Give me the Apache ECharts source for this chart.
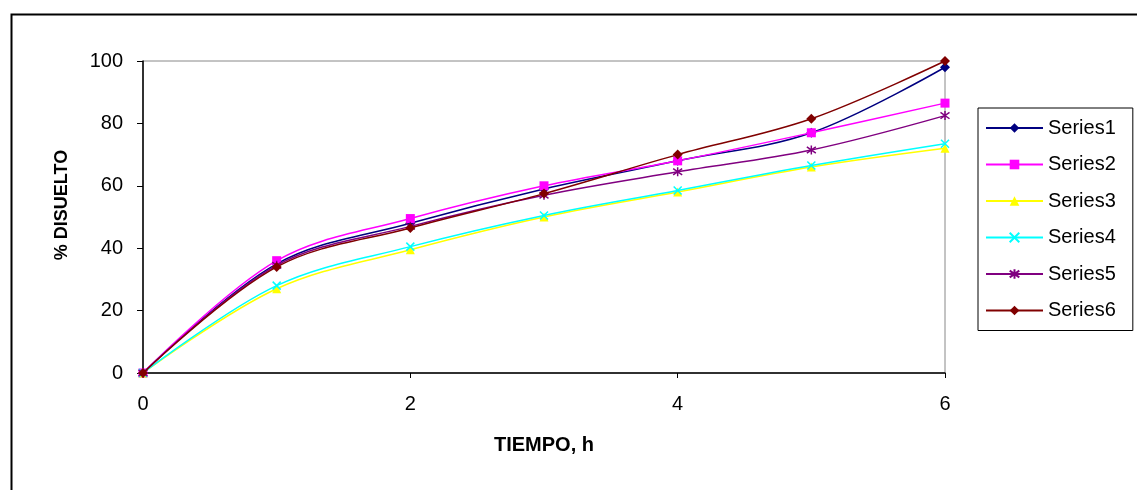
<!DOCTYPE html>
<html>
<head>
<meta charset="utf-8">
<script src="https://cdn.jsdelivr.net/npm/echarts@6/dist/echarts.min.js"></script>
<style>html,body{margin:0;padding:0;background:#fff;}#chart{width:1137px;height:490px;}</style>
</head>
<body>
<div id="chart"></div>
<script>
const hours = [0, 1, 2, 3, 4, 5, 6];
const seriesNames = ['Series1', 'Series2', 'Series3', 'Series4', 'Series5', 'Series6'];
const series1 = [0, 35, 48, 59, 68, 77, 98];
const series2 = [0, 36, 49.5, 60, 68, 77, 86.5];
const series3 = [0, 27, 39.5, 50, 58, 66, 72];
const series4 = [0, 28, 40.5, 50.5, 58.5, 66.5, 73.5];
const series5 = [0, 34.5, 47, 57, 64.5, 71.5, 82.5];
const series6 = [0, 34, 46.5, 57.5, 70, 81.5, 100];
const xTicks = [0, 2, 4, 6];
const yTicks = [0, 20, 40, 60, 80, 100];

const allValues = [series1, series2, series3, series4, series5, series6];
const colors = ['#000080', '#FF00FF', '#FFFF00', '#00FFFF', '#800080', '#800000'];
const symbols = [
  'diamond', 'rect', 'triangle',
  'path://M0,0L10,10M10,0L0,10',
  'path://M5,0L5,10M0,1.5L10,8.5M10,1.5L0,8.5',
  'diamond'
];
const symbolSizes = [10, 9, 9, 8, 9, 10];
const font = 'Arial, "Liberation Sans", sans-serif';

const chart = echarts.init(document.getElementById('chart'), null, {renderer: 'canvas'});
chart.setOption({
  animation: false,
  backgroundColor: '#fff',
  graphic: [{
    type: 'rect', left: 9, top: 12, z: -1,
    shape: {width: 1200, height: 600},
    style: {fill: 'none', stroke: '#000', lineWidth: 2}
  }],
  grid: {left: 143, right: 192, top: 61, bottom: 117, show: true, borderColor: '#888', borderWidth: 1, backgroundColor: 'transparent'},
  legend: {
    orient: 'vertical', left: 978, top: 108,
    padding: [10, 17, 10, 7],
    itemWidth: 57, itemHeight: 12, itemGap: 16.5,
    borderColor: '#000', borderWidth: 1,
    textStyle: {fontFamily: font, fontSize: 20, color: '#000'},
    data: seriesNames
  },
  xAxis: {
    type: 'value', min: xTicks[0], max: xTicks[xTicks.length - 1], interval: 2,
    name: 'TIEMPO, h', nameLocation: 'middle', nameGap: 62,
    nameTextStyle: {fontFamily: font, fontSize: 20, fontWeight: 'bold', color: '#000'},
    axisLine: {show: true, lineStyle: {color: '#000', width: 1.5}},
    axisTick: {show: true, inside: false, length: 5, lineStyle: {color: '#000'}},
    axisLabel: {fontFamily: font, fontSize: 20, color: '#000', margin: 21},
    splitLine: {show: false}
  },
  yAxis: {
    type: 'value', min: yTicks[0], max: yTicks[yTicks.length - 1], interval: 20,
    name: '% DISUELTO', nameLocation: 'middle', nameGap: 72,
    nameTextStyle: {fontFamily: font, fontSize: 18, fontWeight: 'bold', color: '#000', padding: [0, 0, 0, 24]},
    axisLine: {show: true, lineStyle: {color: '#000', width: 1.5}},
    axisTick: {show: true, inside: false, length: 6, lineStyle: {color: '#000'}},
    axisLabel: {fontFamily: font, fontSize: 20, color: '#000', margin: 20},
    splitLine: {show: false}
  },
  series: allValues.map((vals, i) => ({
    name: seriesNames[i],
    type: 'line',
    data: hours.map((h, j) => [h, vals[j]]),
    smooth: 0.35,
    symbol: symbols[i],
    symbolSize: symbolSizes[i],
    showAllSymbol: true,
    lineStyle: {color: colors[i], width: 1.5},
    itemStyle: {color: colors[i], borderColor: colors[i], borderWidth: (i === 3 || i === 4) ? 1.5 : 0},
    emphasis: {disabled: true},
    z: 2 + i
  }))
});
</script>
</body>
</html>
